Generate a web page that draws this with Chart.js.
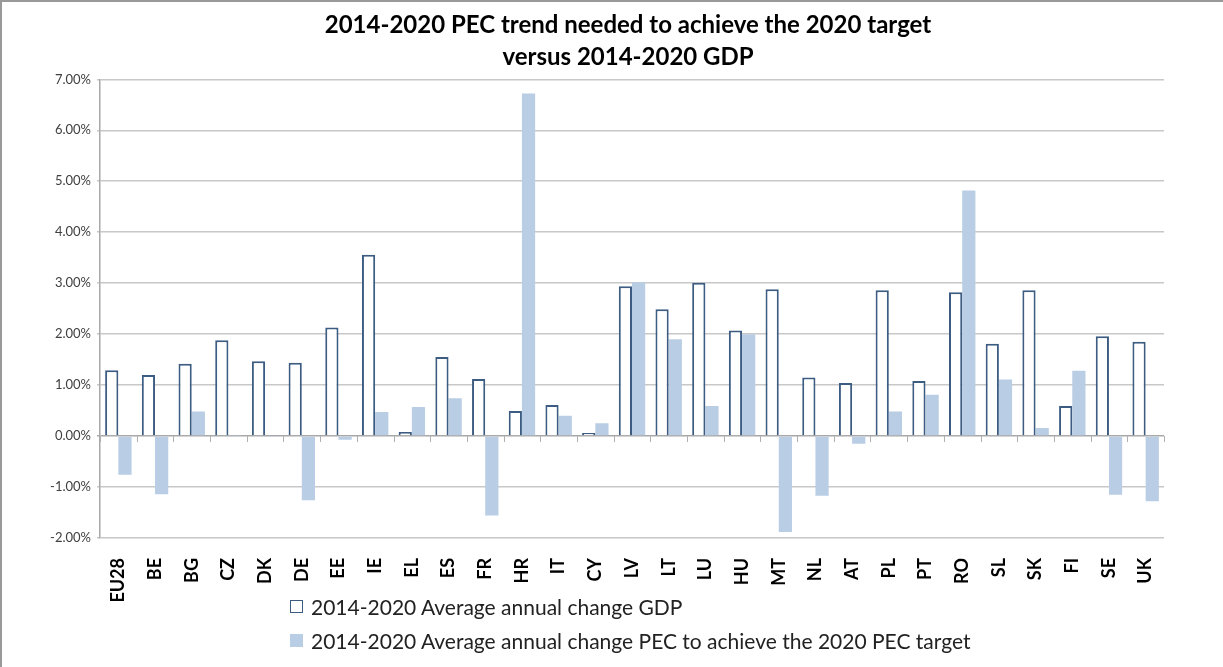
<!DOCTYPE html>
<html>
<head>
<meta charset="utf-8">
<script src="https://cdn.jsdelivr.net/npm/chart.js@4/dist/chart.umd.min.js"></script>
<style>
  html, body { margin: 0; padding: 0; background: #fff; }
  #frame {
    position: absolute; left: 0; top: 0; width: 1223px; height: 667px;
    border-left: 2px solid #999; border-top: 2px solid #999; box-sizing: border-box;
  }
  #wrap { position: absolute; left: 0; top: 0; width: 1223px; height: 667px; }
  #legend {
    position: absolute; left: 290px; top: 589px;
    font-family: Lato, 'Open Sans', sans-serif; font-size: 21px; color: #222;
  }
  .item { display: flex; align-items: center; height: 34px; }
  .swatch { width: 13px; height: 13px; box-sizing: border-box; margin-right: 8px; }
</style>
</head>
<body>
<div id="wrap"><canvas id="chart"></canvas></div>
<div id="frame"></div>
<div id="legend"></div>
<script>
const countries = ['EU28', 'BE', 'BG', 'CZ', 'DK', 'DE', 'EE', 'IE', 'EL', 'ES', 'FR', 'HR', 'IT', 'CY',
  'LV', 'LT', 'LU', 'HU', 'MT', 'NL', 'AT', 'PL', 'PT', 'RO', 'SL', 'SK', 'FI', 'SE', 'UK'];

// % values
const gdpChange = [1.29, 1.20, 1.42, 1.88, 1.47, 1.44, 2.13, 3.56, 0.08, 1.55, 1.12, 0.49, 0.61, 0.06,
  2.94, 2.49, 3.01, 2.07, 2.88, 1.15, 1.04, 2.86, 1.08, 2.82, 1.81, 2.86, 0.59, 1.96, 1.85];
const pecChange = [-0.76, -1.14, 0.48, 0.01, -0.01, -1.26, -0.07, 0.47, 0.57, 0.74, -1.56, 6.72, 0.40, 0.25,
  3.02, 1.90, 0.59, 2.00, -1.88, -1.17, -0.15, 0.48, 0.81, 4.82, 1.11, 0.16, 1.28, -1.15, -1.28];

const seriesLabels = [
  '2014-2020 Average annual change GDP',
  '2014-2020 Average annual change PEC to achieve the 2020 PEC target'
];
const titleLines = ['2014-2020 PEC trend needed to achieve the 2020 target', 'versus 2014-2020 GDP'];
const yMin = -2, yMax = 7, yStep = 1;

// short tick marks hanging off the zero line between categories
const zeroTicks = {
  id: 'zeroTicks',
  afterDatasetsDraw(chart) {
    const x = chart.scales.x, y = chart.scales.y;
    const ctx = chart.ctx;
    const half = (x.getPixelForValue(1) - x.getPixelForValue(0)) / 2;
    const y0 = y.getPixelForValue(0);
    ctx.save();
    ctx.strokeStyle = '#b0b0b0';
    ctx.lineWidth = 1;
    ctx.beginPath();
    for (let i = 0; i <= countries.length; i++) {
      const px = Math.round(x.getPixelForValue(i) - half) + 0.5;
      ctx.moveTo(px, y0);
      ctx.lineTo(px, y0 + 6);
    }
    ctx.stroke();
    ctx.restore();
  }
};

const chart = new Chart(document.getElementById('chart'), {
  type: 'bar',
  data: {
    labels: countries,
    datasets: [
      {
        label: seriesLabels[0],
        data: gdpChange,
        backgroundColor: '#ffffff',
        borderColor: '#3d5c82',
        borderWidth: 2,
        barPercentage: 1,
        categoryPercentage: 0.72
      },
      {
        label: seriesLabels[1],
        data: pecChange,
        backgroundColor: '#b9cde5',
        borderWidth: 0,
        barPercentage: 1,
        categoryPercentage: 0.72
      }
    ]
  },
  plugins: [zeroTicks],
  options: {
    responsive: true,
    maintainAspectRatio: false,
    animation: false,
    // left padding + empty right axis keep the title centred over the plot
    layout: { padding: { left: 33, right: 0, top: 0, bottom: 0 } },
    plugins: {
      legend: { display: false },
      tooltip: { enabled: false },
      title: {
        display: true,
        text: titleLines,
        color: '#000',
        font: { family: 'Lato', size: 24, weight: 'bold', lineHeight: 1.34 },
        padding: { top: 9, bottom: 6 }
      }
    },
    scales: {
      x: {
        grid: { display: false },
        border: { display: false },
        ticks: {
          minRotation: 90,
          maxRotation: 90,
          autoSkip: false,
          padding: 12,
          color: '#000',
          font: { family: 'Lato', size: 18, weight: 'bold' }
        },
        afterFit(scale) { scale.height = 129; }
      },
      y: {
        min: yMin,
        max: yMax,
        ticks: {
          stepSize: yStep,
          color: '#404040',
          padding: 6,
          font: { family: 'Lato', size: 13 },
          callback: v => v.toFixed(2) + '%'
        },
        grid: {
          color: c => c.tick && c.tick.value === 0 ? '#a8a8a8' : '#c8c8c8',
          lineWidth: 1.5,
          tickLength: 3
        },
        border: { display: true, color: '#a8a8a8', width: 1.5 },
        afterFit(scale) { scale.width = 67; }
      },
      yPad: {
        position: 'right',
        grid: { display: false },
        border: { display: false },
        ticks: { display: false },
        afterFit(scale) { scale.width = 59; }
      }
    }
  }
});

// legend rows built from the datasets
const legendEl = document.getElementById('legend');
chart.data.datasets.forEach(ds => {
  const row = document.createElement('div');
  row.className = 'item';
  const sw = document.createElement('span');
  sw.className = 'swatch';
  sw.style.background = ds.backgroundColor;
  if (ds.borderWidth) sw.style.border = '1.5px solid ' + ds.borderColor;
  row.appendChild(sw);
  row.appendChild(document.createTextNode(ds.label));
  legendEl.appendChild(row);
});
</script>
</body>
</html>
